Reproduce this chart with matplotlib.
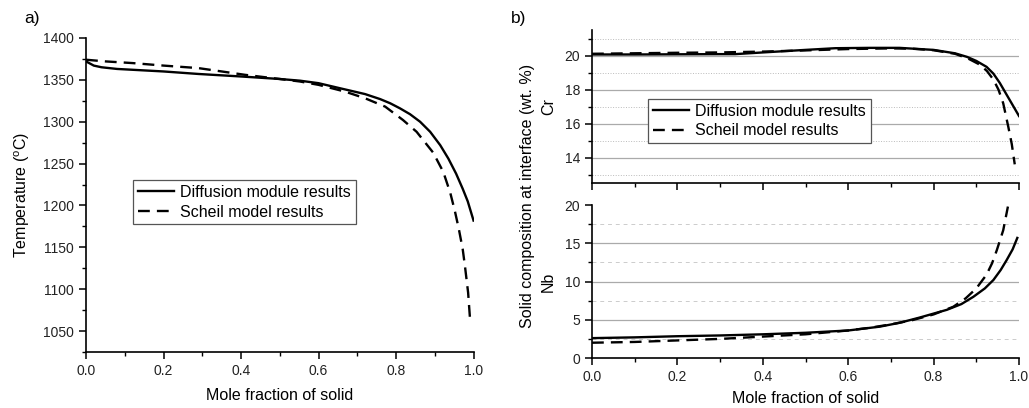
import matplotlib
matplotlib.use("Agg")
import matplotlib.pyplot as plt
from matplotlib.ticker import MultipleLocator, FixedLocator

plt.rcParams['font.family'] = ['Liberation Sans', 'DejaVu Sans']
plt.rcParams['mathtext.fontset'] = 'custom'
plt.rcParams['mathtext.rm'] = 'Liberation Sans'
plt.rcParams['mathtext.it'] = 'Liberation Sans'

# ---- data -------------------------------------------------------------
# (a) temperature vs. mole fraction of solid
fs_T_diff = [0.0, 0.02, 0.04, 0.08, 0.12, 0.2, 0.29, 0.4, 0.5, 0.552, 0.6, 0.655, 0.72,
             0.759, 0.785, 0.81, 0.836, 0.862, 0.888, 0.914, 0.935, 0.955, 0.972, 0.985, 1.0]
T_diff = [1372, 1367, 1365, 1363, 1362, 1360, 1357, 1354, 1351, 1349, 1346, 1340, 1333,
          1327, 1322, 1316, 1309, 1300, 1288, 1272, 1256, 1238, 1220, 1205, 1182]
fs_T_scheil = [0.0, 0.05, 0.12, 0.2, 0.29, 0.41, 0.5, 0.552, 0.6, 0.668, 0.72, 0.772,
               0.818, 0.853, 0.896, 0.922, 0.94, 0.952, 0.962, 0.972, 0.978, 0.986, 0.991]
T_scheil = [1374, 1372, 1370, 1367, 1364, 1356, 1351, 1348, 1344, 1336, 1328, 1318,
            1302, 1288, 1263, 1240, 1215, 1193, 1172, 1148, 1127, 1096, 1064]

# (b) solid composition at the interface, wt. %
fs_Cr_diff = [0.0, 0.1, 0.2, 0.3, 0.335, 0.4, 0.5, 0.57, 0.65, 0.72, 0.8, 0.85, 0.878,
              0.9, 0.924, 0.94, 0.955, 0.97, 0.985, 1.0]
Cr_diff = [20.08, 20.08, 20.09, 20.1, 20.1, 20.2, 20.35, 20.45, 20.47, 20.47, 20.35, 20.15,
           19.94, 19.7, 19.35, 18.95, 18.4, 17.75, 17.1, 16.45]
fs_Cr_scheil = [0.0, 0.1, 0.2, 0.3, 0.4, 0.5, 0.6, 0.7, 0.75, 0.8, 0.85, 0.88, 0.909,
                0.925, 0.94, 0.952, 0.963, 0.975, 0.983, 0.99]
Cr_scheil = [20.12, 20.15, 20.18, 20.2, 20.25, 20.32, 20.4, 20.44, 20.42, 20.33, 20.12,
             19.85, 19.47, 19.1, 18.6, 18.0, 17.2, 15.8, 14.8, 13.6]

fs_Nb_diff = [0.0, 0.1, 0.2, 0.3, 0.4, 0.5, 0.6, 0.674, 0.72, 0.768, 0.831, 0.865, 0.893,
              0.92, 0.94, 0.957, 0.971, 0.985, 0.996]
Nb_diff = [2.6, 2.7, 2.85, 2.95, 3.1, 3.3, 3.6, 4.1, 4.6, 5.3, 6.3, 7.05, 8.0,
           9.1, 10.2, 11.5, 12.8, 14.2, 15.7]
fs_Nb_scheil = [0.0, 0.1, 0.2, 0.3, 0.4, 0.5, 0.6, 0.65, 0.7, 0.75, 0.8, 0.846, 0.875,
                0.9, 0.924, 0.937, 0.948, 0.963, 0.974]
Nb_scheil = [2.0, 2.1, 2.3, 2.5, 2.8, 3.1, 3.6, 3.95, 4.4, 4.95, 5.7, 6.7, 7.8,
             9.1, 10.9, 12.4, 14.1, 16.7, 19.8]

T_ticks = [1050, 1100, 1150, 1200, 1250, 1300, 1350, 1400]
x_ticks = [0.0, 0.2, 0.4, 0.6, 0.8, 1.0]
Cr_ticks = [14, 16, 18, 20]
Nb_ticks = [0, 5, 10, 15, 20]

label_diff = 'Diffusion module results'
label_scheil = 'Scheil model results'

# ---- figure -----------------------------------------------------------
fig = plt.figure(figsize=(10.29, 4.08), dpi=100)
ax_a = fig.add_axes([0.0836, 0.137, 0.3766, 0.770])
ax_cr = fig.add_axes([0.5753, 0.5515, 0.4150, 0.374])
ax_nb = fig.add_axes([0.5753, 0.1225, 0.4150, 0.375])

lw = 1.7
dash = (5, 3)
tick_col = '#222222'


def style(ax):
    for s in ('top', 'right'):
        ax.spines[s].set_visible(False)
    for s in ('left', 'bottom'):
        ax.spines[s].set_linewidth(1.2)
    ax.tick_params(which='major', direction='out', length=5, width=1.1,
                   labelsize=10, colors='black', labelcolor=tick_col)
    ax.tick_params(which='minor', direction='out', length=3, width=1.0)
    ax.set_xlim(0, 1.0)
    ax.xaxis.set_major_locator(FixedLocator(x_ticks))
    ax.xaxis.set_minor_locator(MultipleLocator(0.1))


def legend(ax, x, y):
    lg = ax.legend(loc='upper left', bbox_to_anchor=(x, y), borderaxespad=0,
                   fontsize=11.5, frameon=True, fancybox=False, handlelength=2.3,
                   handletextpad=0.35, borderpad=0.3, labelspacing=0.3,
                   framealpha=1)
    lg.get_frame().set_edgecolor('#555555')
    lg.get_frame().set_linewidth(0.9)


# (a) temperature
ax_a.plot(fs_T_diff, T_diff, color='black', lw=lw, label=label_diff)
ax_a.plot(fs_T_scheil, T_scheil, color='black', lw=lw, dashes=dash, label=label_scheil)
style(ax_a)
ax_a.set_ylim(1025, 1400)
ax_a.yaxis.set_major_locator(FixedLocator(T_ticks))
ax_a.yaxis.set_minor_locator(MultipleLocator(25))
ax_a.set_xticklabels([f'{v:.1f}' for v in x_ticks])
ax_a.set_xlabel('Mole fraction of solid', fontsize=11.5, labelpad=7)
ax_a.set_ylabel(r'Temperature ($^{\mathrm{o}}$C)', fontsize=11.5, labelpad=8)
legend(ax_a, 0.121, 0.548)

# (b) Cr
ax_cr.plot(fs_Cr_diff, Cr_diff, color='black', lw=lw, label=label_diff, zorder=3)
ax_cr.plot(fs_Cr_scheil, Cr_scheil, color='black', lw=lw, dashes=dash,
           label=label_scheil, zorder=3)
style(ax_cr)
ax_cr.set_ylim(12.5, 21.5)
ax_cr.yaxis.set_major_locator(FixedLocator(Cr_ticks))
ax_cr.yaxis.set_minor_locator(FixedLocator([13, 15, 17, 19, 21]))
ax_cr.set_xticklabels([])
ax_cr.grid(which='major', axis='y', color='#aaaaaa', lw=0.9, zorder=0)
ax_cr.grid(which='minor', axis='y', color='#bbbbbb', lw=0.7, ls=':', zorder=0)
ax_cr.set_ylabel('Cr', fontsize=11.5, labelpad=6)
legend(ax_cr, 0.131, 0.551)

# (b) Nb
ax_nb.plot(fs_Nb_diff, Nb_diff, color='black', lw=lw, zorder=3)
ax_nb.plot(fs_Nb_scheil, Nb_scheil, color='black', lw=lw, dashes=dash, zorder=3)
style(ax_nb)
ax_nb.set_ylim(0, 20)
ax_nb.yaxis.set_major_locator(FixedLocator(Nb_ticks))
ax_nb.yaxis.set_minor_locator(FixedLocator([2.5, 7.5, 12.5, 17.5]))
ax_nb.set_xticklabels([f'{v:.1f}' for v in x_ticks])
for v in Nb_ticks[1:-1]:
    ax_nb.axhline(v, color='#aaaaaa', lw=0.9, zorder=0)
for v in [2.5, 7.5, 12.5, 17.5]:
    ax_nb.axhline(v, color='#cccccc', lw=0.7, ls=(0, (4, 4)), zorder=0)
ax_nb.set_xlabel('Mole fraction of solid', fontsize=11.5, labelpad=5)
ax_nb.set_ylabel('Nb', fontsize=11.5, labelpad=6)

fig.text(0.513, 0.52, 'Solid composition at interface (wt. %)', rotation=90,
         ha='center', va='center', fontsize=11.5)

fig.text(0.024, 0.955, 'a)', fontsize=12.5, ha='left', va='center')
fig.text(0.497, 0.955, 'b)', fontsize=12.5, ha='left', va='center')

fig.savefig('out.png', dpi=100)
